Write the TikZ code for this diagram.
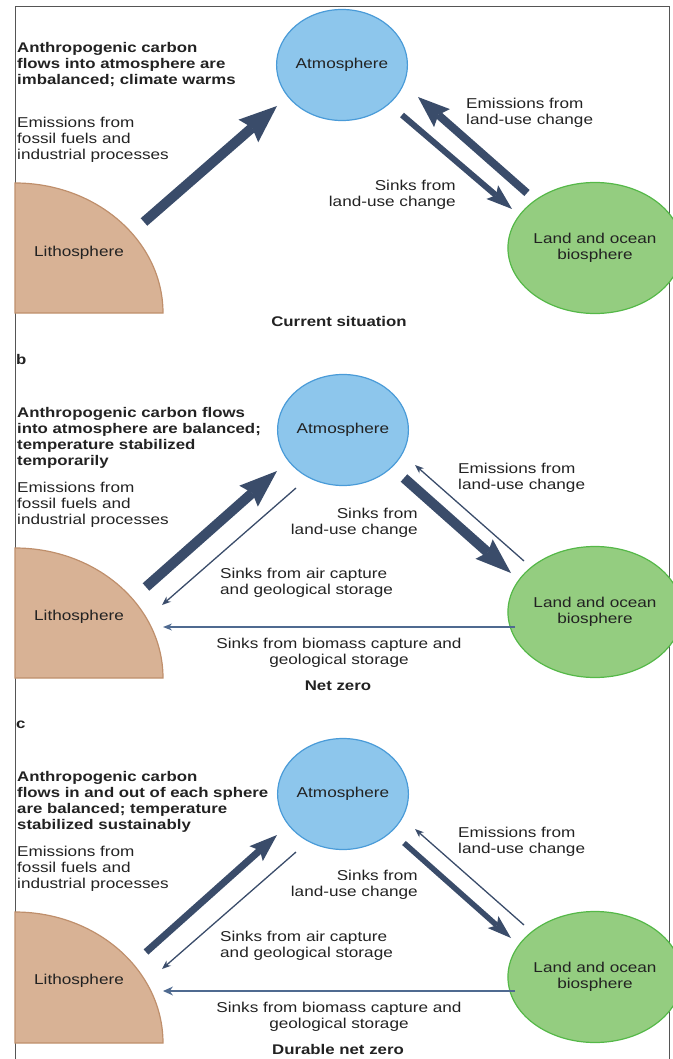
\documentclass[tikz,border=0pt]{standalone}
\usepackage{fontspec}
\setmainfont{Liberation Sans}[FakeStretch=1.2]
\usetikzlibrary{arrows.meta,shapes.geometric}
\definecolor{atmfill}{HTML}{8DC6EC}
\definecolor{atmline}{HTML}{4A9BD8}
\definecolor{biofill}{HTML}{94CD80}
\definecolor{bioline}{HTML}{55B848}
\definecolor{litfill}{HTML}{D8B295}
\definecolor{litline}{HTML}{BF8F6C}
\definecolor{arr}{HTML}{3A4C6A}
\definecolor{arrlight}{HTML}{4F6A90}
\definecolor{txt}{HTML}{222222}
\definecolor{frame}{HTML}{555555}
\begin{document}
\begin{tikzpicture}[x=1pt,y=-1pt, font=\fontsize{14.3}{16}\selectfont, text=txt,
  sphere/.style={ellipse, line width=1.2pt, inner sep=0pt, align=center},
  atm/.style={sphere, draw=atmline, fill=atmfill, minimum width=126pt, minimum height=111pt},
  bio/.style={sphere, draw=bioline, fill=biofill, minimum width=149pt, minimum height=131pt},
  lith/.style={draw=litline, fill=litfill, line width=1.2pt},
  title/.style={anchor=north west, align=left, inner sep=0pt, font=\fontsize{14}{16}\selectfont\bfseries},
  lbl/.style={anchor=north west, align=left, inner sep=0pt},
  lblr/.style={anchor=north east, align=right, inner sep=0pt},
  lblc/.style={anchor=north, align=center, inner sep=0pt},
  caption/.style={inner sep=0pt, font=\fontsize{14}{16}\selectfont\bfseries},
  panel/.style={anchor=base west, inner sep=0pt, font=\fontsize{14}{16}\selectfont\bfseries},
  fat/.style args={#1/#2/#3}{draw=arr, line width=#1pt,
    -{Stealth[length=#3pt, width=#2pt, inset=5pt, line width=0pt]}},
  thin/.style={draw=arr, line width=1.3pt, -{Stealth[length=9pt, width=7pt, line width=0pt]}},
]
\useasboundingbox (0,0) rectangle (672,1059);
% frame
\draw[frame, line width=0.9pt] (15,1059) -- (15,6) -- (669,6) -- (669,1059);

% ---------------- panel a ----------------
\node[atm] (atmA) at (342,65) {Atmosphere};
\node[bio] (bioA) at (595,248) {Land and ocean\\biosphere};
\draw[lith] (15,313) -- (15,183) arc[start angle=-90, end angle=0, x radius=148, y radius=130] -- cycle;
\node (lithA) at (79,253) {Lithosphere};
\node[title] (titleA) at (17,42) {Anthropogenic carbon\\flows into atmosphere are\\imbalanced; climate warms};
\node[lbl] (fosA) at (17,117) {Emissions from\\fossil fuels and\\industrial processes};
\node[lbl] (luemA) at (466,98) {Emissions from\\land-use change};
\node[lblr] (lusiA) at (456,180) {Sinks from\\land-use change};
\node[caption] (capA) at (339,321) {Current situation};
\coordinate (a1s) at (144,222); \coordinate (a1e) at (277,106);
\coordinate (a2s) at (527,193); \coordinate (a2e) at (418,97);
\coordinate (a3s) at (402,115); \coordinate (a3e) at (512,209);
\draw[fat=10/30/38] (a1s) -- (a1e);
\draw[fat=8/24/32] (a2s) -- (a2e);
\draw[fat=6/18/26] (a3s) -- (a3e);

% ---------------- panel b ----------------
\node[panel] (pb) at (16,364) {b};
\node[atm] (atmB) at (343,430) {Atmosphere};
\node[bio] (bioB) at (595,612) {Land and ocean\\biosphere};
\draw[lith] (15,678) -- (15,548) arc[start angle=-90, end angle=0, x radius=148, y radius=130] -- cycle;
\node (lithB) at (79,617) {Lithosphere};
\node[title] (titleB) at (17,407) {Anthropogenic carbon flows\\into atmosphere are balanced;\\temperature stabilized\\temporarily};
\node[lbl] (fosB) at (17,482) {Emissions from\\fossil fuels and\\industrial processes};
\node[lbl] (luemB) at (458,463) {Emissions from\\land-use change};
\node[lblr] (lusiB) at (418,508) {Sinks from\\land-use change};
\node[lbl] (airB) at (220,568) {Sinks from air capture\\and geological storage};
\node[lblc] (bmB) at (339,638) {Sinks from biomass capture and\\geological storage};
\node[caption] (capB) at (338,686) {Net zero};
\coordinate (b1s) at (146,587); \coordinate (b1e) at (277,471);
\coordinate (b2s) at (296,488); \coordinate (b2e) at (162,605);
\coordinate (b3s) at (404,478); \coordinate (b3e) at (511,573);
\coordinate (b4s) at (524,561); \coordinate (b4e) at (415,465);
\coordinate (b5s) at (515,627); \coordinate (b5e) at (163,627);
\draw[fat=10/28/38] (b1s) -- (b1e);
\draw[thin] (b2s) -- (b2e);
\draw[fat=10/26/36] (b3s) -- (b3e);
\draw[thin] (b4s) -- (b4e);
\draw[thin, draw=arrlight, line width=1.2pt] (b5s) -- (b5e);

% ---------------- panel c ----------------
\node[panel] (pc) at (16,728) {c};
\node[atm] (atmC) at (343,794) {Atmosphere};
\node[bio] (bioC) at (595,977) {Land and ocean\\biosphere};
\draw[lith] (15,1043) -- (15,912) arc[start angle=-90, end angle=0, x radius=148, y radius=131] -- cycle;
\node (lithC) at (79,981) {Lithosphere};
\node[title] (titleC) at (17,771) {Anthropogenic carbon\\flows in and out of each sphere\\are balanced; temperature\\stabilized sustainably};
\node[lbl] (fosC) at (17,846) {Emissions from\\fossil fuels and\\industrial processes};
\node[lbl] (luemC) at (458,827) {Emissions from\\land-use change};
\node[lblr] (lusiC) at (418,870) {Sinks from\\land-use change};
\node[lbl] (airC) at (220,931) {Sinks from air capture\\and geological storage};
\node[lblc] (bmC) at (339,1002) {Sinks from biomass capture and\\geological storage};
\node[caption] (capC) at (338,1049) {Durable net zero};
\coordinate (c1s) at (146,952); \coordinate (c1e) at (277,835);
\coordinate (c2s) at (296,852); \coordinate (c2e) at (162,969);
\coordinate (c3s) at (404,843); \coordinate (c3e) at (511,938);
\coordinate (c4s) at (524,925); \coordinate (c4e) at (415,829);
\coordinate (c5s) at (515,991); \coordinate (c5e) at (163,991);
\draw[fat=7/20/28] (c1s) -- (c1e);
\draw[thin] (c2s) -- (c2e);
\draw[fat=5.5/16/24] (c3s) -- (c3e);
\draw[thin] (c4s) -- (c4e);
\draw[draw=arrlight, line width=2.2pt, -{Stealth[length=10pt, width=9pt, line width=0pt]}] (c5s) -- (c5e);
\end{tikzpicture}
\end{document}
